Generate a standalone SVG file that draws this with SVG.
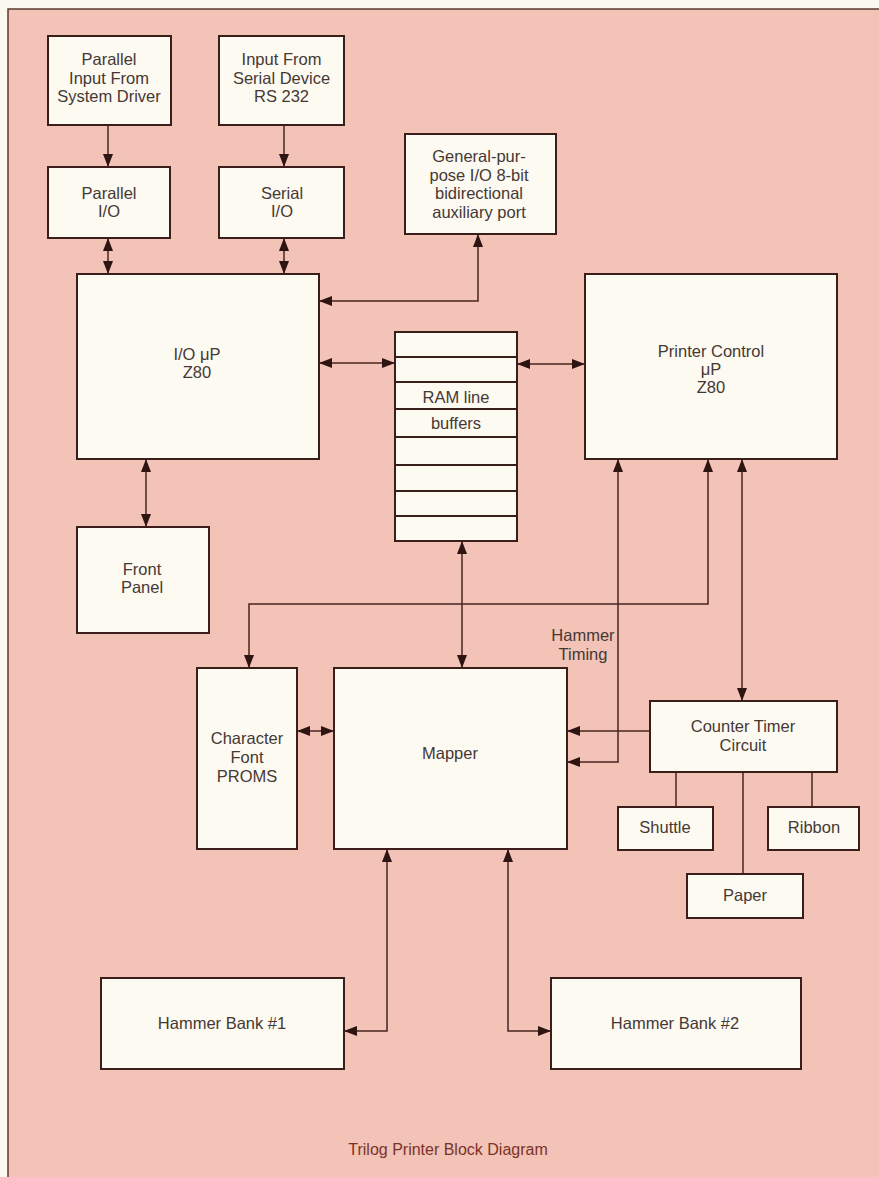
<svg xmlns="http://www.w3.org/2000/svg" width="879" height="1177" viewBox="0 0 879 1177">
<defs>
<style>
.box{fill:#fdfaf2;stroke:#3a1e1a;stroke-width:2}
.cn{fill:none;stroke:#4a2520;stroke-width:1.5}
text{font-family:"Liberation Sans",Arial,sans-serif;font-size:16.5px;fill:#463834;text-anchor:middle}
.cap{fill:#7a3328;font-size:16px}
</style>
<marker id="ah" viewBox="0 0 13 10" refX="13" refY="5" markerWidth="13" markerHeight="10" markerUnits="userSpaceOnUse" orient="auto-start-reverse">
<path d="M0,0 L13,5 L0,10 z" fill="#2e1512"/>
</marker>
</defs>
<rect x="0" y="0" width="879" height="1177" fill="#fbf8ef"/>
<rect x="8" y="9" width="880" height="1180" fill="#f2c3b6" stroke="#5a3a33" stroke-width="1.5"/>

<g id="connectors">
<line class="cn" x1="108" y1="125" x2="108" y2="167" marker-end="url(#ah)"/>
<line class="cn" x1="284" y1="125" x2="284" y2="167" marker-end="url(#ah)"/>
<line class="cn" x1="108" y1="238" x2="108" y2="274" marker-start="url(#ah)" marker-end="url(#ah)"/>
<line class="cn" x1="284" y1="238" x2="284" y2="274" marker-start="url(#ah)" marker-end="url(#ah)"/>
<path class="cn" d="M478,234 V301 H319" marker-start="url(#ah)" marker-end="url(#ah)"/>
<line class="cn" x1="319" y1="363" x2="395" y2="363" marker-start="url(#ah)" marker-end="url(#ah)"/>
<line class="cn" x1="517" y1="364" x2="585" y2="364" marker-start="url(#ah)" marker-end="url(#ah)"/>
<line class="cn" x1="146" y1="459" x2="146" y2="527" marker-start="url(#ah)" marker-end="url(#ah)"/>
<path class="cn" d="M708,459 V604 H249 V668" marker-start="url(#ah)" marker-end="url(#ah)"/>
<line class="cn" x1="462" y1="541" x2="462" y2="668" marker-start="url(#ah)" marker-end="url(#ah)"/>
<line class="cn" x1="297" y1="731" x2="334" y2="731" marker-start="url(#ah)" marker-end="url(#ah)"/>
<path class="cn" d="M618,459 V762 H567" marker-start="url(#ah)" marker-end="url(#ah)"/>
<line class="cn" x1="650" y1="731" x2="567" y2="731" marker-end="url(#ah)"/>
<line class="cn" x1="742" y1="459" x2="742" y2="701" marker-start="url(#ah)" marker-end="url(#ah)"/>
<line class="cn" x1="676" y1="772" x2="676" y2="807"/>
<line class="cn" x1="743" y1="772" x2="743" y2="874"/>
<line class="cn" x1="812" y1="772" x2="812" y2="807"/>
<path class="cn" d="M387,849 V1031 H344" marker-start="url(#ah)" marker-end="url(#ah)"/>
<path class="cn" d="M508,849 V1031 H551" marker-start="url(#ah)" marker-end="url(#ah)"/>
<text x="583" y="641">Hammer</text>
<text x="583" y="660">Timing</text>
</g>

<g id="parallel-input">
<rect class="box" x="48" y="36" width="123" height="89"/>
<text x="109" y="65">Parallel</text>
<text x="109" y="83.5">Input From</text>
<text x="109" y="102">System Driver</text>
</g>
<g id="serial-input">
<rect class="box" x="219" y="36" width="125" height="89"/>
<text x="281.5" y="65">Input From</text>
<text x="281.5" y="83.5">Serial Device</text>
<text x="281.5" y="102">RS 232</text>
</g>
<g id="parallel-io">
<rect class="box" x="48" y="167" width="122" height="71"/>
<text x="109" y="199">Parallel</text>
<text x="109" y="217">I/O</text>
</g>
<g id="serial-io">
<rect class="box" x="219" y="167" width="125" height="71"/>
<text x="282" y="199">Serial</text>
<text x="282" y="217">I/O</text>
</g>
<g id="aux-port">
<rect class="box" x="405" y="134" width="151" height="100"/>
<text x="479" y="162">General-pur-</text>
<text x="479" y="180.5">pose I/O 8-bit</text>
<text x="479" y="199">bidirectional</text>
<text x="479" y="218">auxiliary port</text>
</g>
<g id="io-up">
<rect class="box" x="77" y="274" width="242" height="185"/>
<text x="197" y="360">I/O μP</text>
<text x="197" y="378">Z80</text>
</g>
<g id="ram-buffers">
<rect class="box" x="395" y="332" width="122" height="209"/>
<path class="cn" style="stroke:#3a1e1a;stroke-width:2" d="M395,357 H517 M395,382 H517 M395,409 H517 M395,437 H517 M395,465 H517 M395,491 H517 M395,516 H517"/>
<text x="456" y="403">RAM line</text>
<text x="456" y="429">buffers</text>
</g>
<g id="printer-control">
<rect class="box" x="585" y="274" width="252" height="185"/>
<text x="711" y="357">Printer Control</text>
<text x="711" y="375">μP</text>
<text x="711" y="393">Z80</text>
</g>
<g id="front-panel">
<rect class="box" x="77" y="527" width="132" height="106"/>
<text x="142" y="575">Front</text>
<text x="142" y="593">Panel</text>
</g>
<g id="char-font">
<rect class="box" x="197" y="668" width="100" height="181"/>
<text x="247" y="744">Character</text>
<text x="247" y="763">Font</text>
<text x="247" y="782">PROMS</text>
</g>
<g id="mapper">
<rect class="box" x="334" y="668" width="233" height="181"/>
<text x="450" y="759">Mapper</text>
</g>
<g id="counter-timer">
<rect class="box" x="650" y="701" width="187" height="71"/>
<text x="743" y="732">Counter Timer</text>
<text x="743" y="751">Circuit</text>
</g>
<g id="shuttle">
<rect class="box" x="618" y="807" width="95" height="43"/>
<text x="665" y="833">Shuttle</text>
</g>
<g id="ribbon">
<rect class="box" x="768" y="807" width="91" height="43"/>
<text x="814" y="833">Ribbon</text>
</g>
<g id="paper">
<rect class="box" x="687" y="874" width="116" height="44"/>
<text x="745" y="901">Paper</text>
</g>
<g id="hammer-bank-1">
<rect class="box" x="101" y="978" width="243" height="91"/>
<text x="222" y="1029">Hammer Bank #1</text>
</g>
<g id="hammer-bank-2">
<rect class="box" x="551" y="978" width="250" height="91"/>
<text x="675" y="1029">Hammer Bank #2</text>
</g>
<text class="cap" x="448" y="1155">Trilog Printer Block Diagram</text>
</svg>
